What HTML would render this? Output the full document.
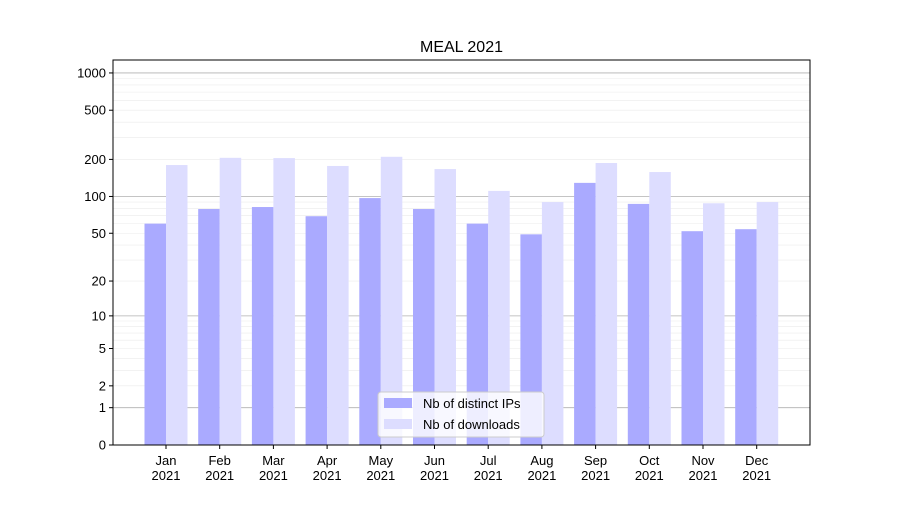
<!DOCTYPE html>
<html><head><meta charset="utf-8"><style>
body{margin:0;background:#fff;font-family:"Liberation Sans",sans-serif}
</style></head><body>
<svg id="chart" width="900" height="500" xmlns="http://www.w3.org/2000/svg" font-family="Liberation Sans, DejaVu Sans, sans-serif">
<rect width="900" height="500" fill="#fff"/>
<text x="461.5" y="52" text-anchor="middle" font-size="16">MEAL 2021</text>
<g id="grid"></g><g id="bars"></g><g id="axes"></g>
<g>
<rect x="378" y="392" width="166" height="45" rx="3" fill="#fff" fill-opacity="0.8" stroke="#ccc"/>
<rect x="384" y="398" width="28" height="10" fill="#aaaaff"/>
<text x="423" y="408" font-size="13">Nb of distinct IPs</text>
<rect x="384" y="419" width="28" height="10" fill="#ddddff"/>
<text x="423" y="429" font-size="13">Nb of downloads</text>
</g>
</svg>
<script>
const months=["Jan","Feb","Mar","Apr","May","Jun","Jul","Aug","Sep","Oct","Nov","Dec"];
const ips=[60,79,82,69,97,79,60,49,129,87,52,54];
const downloads=[180,206,205,177,210,167,111,90,187,158,88,90];
const yTicks=[0,1,2,5,10,20,50,100,200,500,1000];
const NS="http://www.w3.org/2000/svg";
const L=113,R=810,T=60,B=445;
function y(v){return B-124*Math.log10(1+v);}
function xc(i){return 166+i*53.7;}
const W=21.5;
function mk(tag,attrs,parent){const e=document.createElementNS(NS,tag);for(const k in attrs)e.setAttribute(k,attrs[k]);document.getElementById(parent).appendChild(e);return e;}
for(let d=1;d<=1000;d*=10){for(let m=1;m<10;m++){const v=d*m;if(v>1273)break;const yy=y(v);
const g=mk('line',{x1:L,x2:R,y1:yy,y2:yy,stroke:m==1?'#b0b0b0':'#ebebeb','stroke-width':m==1?0.8:0.6},'grid');

}}
months.forEach((mo,i)=>{
const c=xc(i);
const b1=mk('rect',{x:c-W,y:y(ips[i]),width:W,height:B-y(ips[i]),fill:'#aaaaff'},'bars');


const b2=mk('rect',{x:c,y:y(downloads[i]),width:W,height:B-y(downloads[i]),fill:'#ddddff'},'bars');


mk('line',{x1:c,x2:c,y1:B,y2:B+4,stroke:'#000'},'axes');
const t=mk('text',{x:c,y:B+20,'text-anchor':'middle','font-size':13},'axes');


t.innerHTML='<tspan x="'+c+'">'+mo+'</tspan><tspan x="'+c+'" dy="15">2021</tspan>';
});
yTicks.forEach(v=>{const yy=y(v);
mk('line',{x1:L-4,x2:L,y1:yy,y2:yy,stroke:'#000'},'axes');
const t=mk('text',{x:L-7,y:yy+4.5,'text-anchor':'end','font-size':13},'axes');


t.textContent=v;});
const f=mk('rect',{x:L,y:T,width:R-L,height:B-T,fill:'none',stroke:'#000','stroke-width':1},'axes');


</script>
</body></html>
